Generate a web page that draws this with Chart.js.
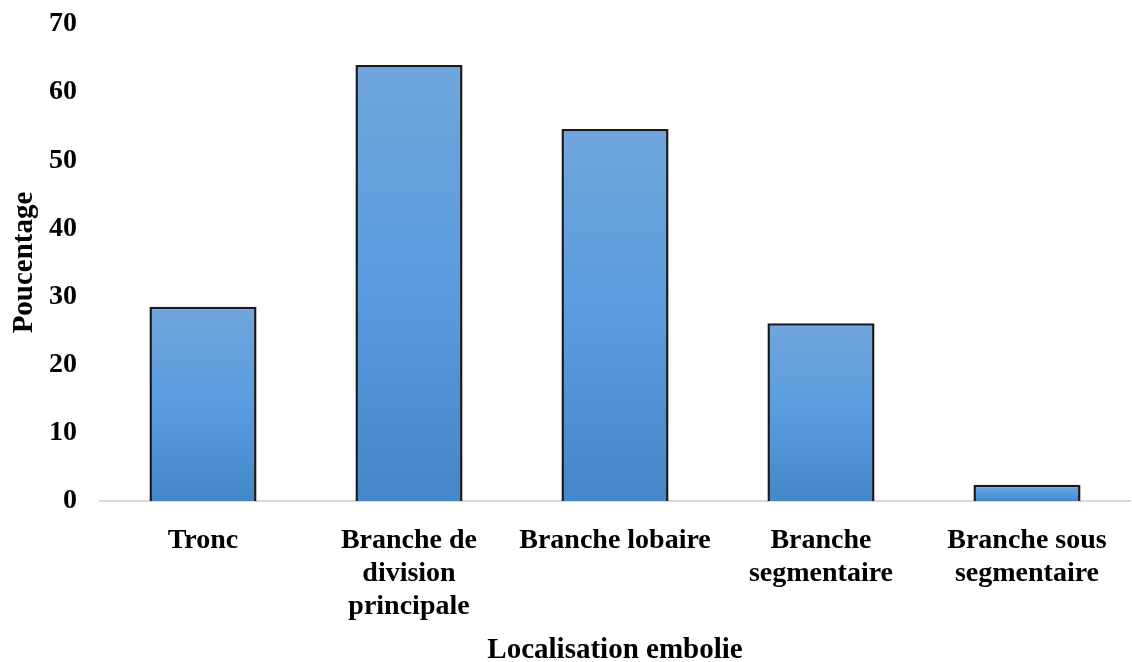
<!DOCTYPE html>
<html>
<head>
<meta charset="utf-8">
<script src="https://cdn.jsdelivr.net/npm/chart.js@4/dist/chart.umd.min.js"></script>
<style>
  html, body { margin: 0; padding: 0; background: #ffffff; }
  #chart { display: block; }
</style>
</head>
<body>
<canvas id="chart" width="1132" height="662"></canvas>
<script>
// données
const categories = [
  'Tronc',
  ['Branche de', 'division', 'principale'],
  'Branche lobaire',
  ['Branche', 'segmentaire'],
  ['Branche sous', 'segmentaire']
];
const percentages = [28.5, 64.0, 54.6, 26.1, 2.4];
const yTicks = [0, 10, 20, 30, 40, 50, 60, 70];

const fontFamily = '"Liberation Serif", "Times New Roman", serif';

function barGradient(context) {
  const chart = context.chart;
  const y = chart.scales.y;
  const v = context.raw;
  if (!y || v == null || !chart.chartArea) return '#5b9bd5';
  const top = y.getPixelForValue(v);
  const base = y.getPixelForValue(0);
  const g = chart.ctx.createLinearGradient(0, top, 0, base);
  g.addColorStop(0, '#70a6dc');
  g.addColorStop(0.5, '#5a9ce0');
  g.addColorStop(1, '#4387c8');
  return g;
}

const ctx = document.getElementById('chart').getContext('2d');
new Chart(ctx, {
  type: 'bar',
  data: {
    labels: categories,
    datasets: [{
      data: percentages,
      backgroundColor: barGradient,
      borderColor: '#1a1a1a',
      borderWidth: 2.5,
      borderSkipped: 'bottom',
      barPercentage: 0.52,
      categoryPercentage: 1.0
    }]
  },
  options: {
    responsive: false,
    animation: false,
    layout: { padding: { top: 24, right: 2, bottom: 0, left: 0 } },
    plugins: {
      legend: { display: false },
      tooltip: { enabled: false }
    },
    scales: {
      x: {
        grid: { display: false, drawTicks: false },
        border: { display: true, color: '#d9d9d9', width: 2 },
        ticks: {
          color: '#000',
          autoSkip: false,
          maxRotation: 0,
          padding: 23,
          font: { family: fontFamily, size: 28, weight: 'bold', lineHeight: 1.18 }
        },
        title: {
          display: true,
          text: 'Localisation embolie',
          color: '#000',
          padding: { top: 8, bottom: 0 },
          font: { family: fontFamily, size: 29, weight: 'bold', lineHeight: 0.8 }
        },
        afterFit: function(scale) {
          scale.height = 161;
          scale.paddingTop = 0;
        }
      },
      y: {
        min: 0,
        max: 70,
        afterBuildTicks: function(scale) {
          scale.ticks = yTicks.map(v => ({ value: v }));
        },
        grid: { display: false, drawTicks: false },
        border: { display: false },
        ticks: {
          color: '#000',
          padding: 23,
          font: { family: fontFamily, size: 28, weight: 'bold' }
        },
        title: {
          display: true,
          text: 'Poucentage',
          color: '#000',
          padding: { top: 10, bottom: 0 },
          font: { family: fontFamily, size: 29, weight: 'bold', lineHeight: 1.0 }
        },
        afterFit: function(scale) {
          scale.width = 100;
          scale.paddingTop = 0;
          scale.paddingBottom = 0;
        }
      }
    }
  }
});
</script>
</body>
</html>
